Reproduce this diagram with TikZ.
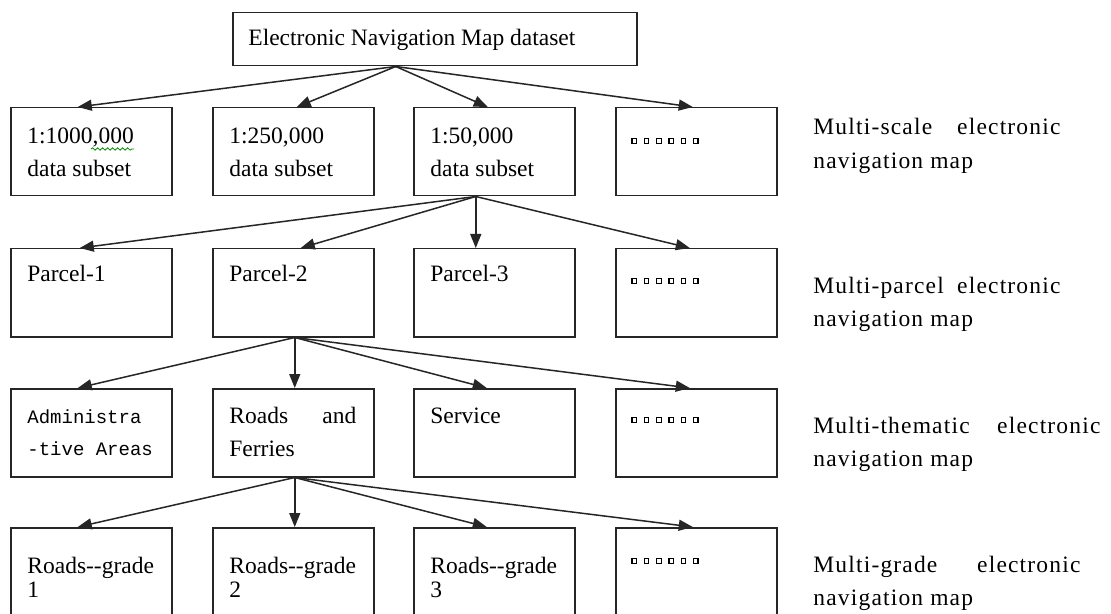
\documentclass[tikz,border=0pt]{standalone}
\usepackage{fontspec}
\setmainfont{Liberation Serif}
\newfontfamily\monof{Liberation Mono}
\newfontfamily\widef[LetterSpace=5]{Liberation Serif}
\usetikzlibrary{arrows.meta,decorations.pathmorphing}
\newcommand{\mylines}[1]{\begin{tabular}[t]{@{}l@{}}#1\end{tabular}}
\begin{document}
\begin{tikzpicture}[x=0.5pt,y=-0.5pt,
  box/.style={draw=black!85, line width=0.75pt, minimum width=80.5pt, minimum height=44pt, inner sep=0pt, anchor=north west},
  txt/.style={anchor=base west, inner sep=0pt, font=\fontsize{11.75}{16.5}\selectfont},
  txtb/.style={anchor=base west, inner sep=0pt, font=\fontsize{11.75}{12}\selectfont},
  lbl/.style={anchor=base west, inner sep=0pt, font=\fontsize{11.75}{16.75}\selectfont\widef},
  mono/.style={anchor=base west, inner sep=0pt, font=\fontsize{9.5}{16.25}\selectfont\monof},
  arr/.style={draw=black!85, line width=0.75pt, -{Triangle[length=7pt,width=5.5pt]}},
  dotsq/.style={draw=black, line width=0.6pt}]
\useasboundingbox (0,0) rectangle (1111,614);
\fill[white] (0,0) rectangle (1111,614);

% top box
\node[box, minimum width=202pt, minimum height=26.5pt] (top) at (232,12) {};
\node[txt] (ttop) at (248,46) {Electronic Navigation Map dataset};

% row 1
\node[box] (a1) at (10,107) {};
\node[box] (a2) at (212,107) {};
\node[box] (a3) at (413,107) {};
\node[box] (a4) at (615,107) {};
\node[txt] (ta1) at (27,144) {\mylines{1:1000,000\\data subset}};
\node[txt] (ta2) at (229,144) {\mylines{1:250,000\\data subset}};
\node[txt] (ta3) at (430,144) {\mylines{1:50,000\\data subset}};
\draw[green!55!black, line width=0.4pt, decorate, decoration={snake, segment length=2.5pt, amplitude=0.6pt}] (91,149) -- (134,149);

% row 2
\node[box] (b1) at (10,248) {};
\node[box] (b2) at (212,248) {};
\node[box] (b3) at (413,248) {};
\node[box] (b4) at (615,248) {};
\node[txt] (tb1) at (27,282) {Parcel-1};
\node[txt] (tb2) at (229,282) {Parcel-2};
\node[txt] (tb3) at (430,282) {Parcel-3};

% row 3
\node[box] (c1) at (10,388) {};
\node[box] (c2) at (212,388) {};
\node[box] (c3) at (413,388) {};
\node[box] (c4) at (615,388) {};
\node[mono] (tc1) at (27,423) {\mylines{Administra\\-tive Areas}};
\node[txt] (tc2) at (229,423) {\mylines{\hbox to 63.5pt{Roads\hfill and}\\Ferries}};
\node[txt] (tc3) at (430,423) {Service};

% row 4
\node[box] (d1) at (10,527) {};
\node[box] (d2) at (212,527) {};
\node[box] (d3) at (413,527) {};
\node[box] (d4) at (615,527) {};
\node[txtb] (td1) at (27,573) {\mylines{Roads-\kern0pt-grade\\1}};
\node[txtb] (td2) at (229,573) {\mylines{Roads-\kern0pt-grade\\2}};
\node[txtb] (td3) at (430,573) {\mylines{Roads-\kern0pt-grade\\3}};

% ellipsis squares
\foreach \yy in {141,281,420,561}
  \foreach \i in {0,...,5}
    \draw[dotsq] ({632+12.3*\i},{\yy-2.25}) rectangle ++(4.5,4.5);

% arrows
\draw[arr] ([xshift=-19.5pt]top.south) -- ([xshift=-6.75pt]a1.north);
\draw[arr] ([xshift=-19.5pt]top.south) -- ([xshift=1.75pt]a2.north);
\draw[arr] ([xshift=-19.5pt]top.south) -- ([xshift=-3.25pt]a3.north);
\draw[arr] ([xshift=-19.5pt]top.south) -- ([xshift=-1.75pt]a4.north);

\draw[arr] ([xshift=-9.25pt]a3.south) -- ([xshift=-5.75pt]b1.north);
\draw[arr] ([xshift=-9.25pt]a3.south) -- ([xshift=3.75pt]b2.north);
\draw[arr] ([xshift=-9.25pt]a3.south) -- ([xshift=-9.25pt]b3.north);
\draw[arr] ([xshift=-9.25pt]a3.south) -- ([xshift=-3.25pt]b4.north);

\draw[arr] ([xshift=0.75pt]b2.south) -- ([xshift=-6.75pt]c1.north);
\draw[arr] ([xshift=0.75pt]b2.south) -- ([xshift=0.75pt]c2.north);
\draw[arr] ([xshift=0.75pt]b2.south) -- ([xshift=-3.75pt]c3.north);
\draw[arr] ([xshift=0.75pt]b2.south) -- ([xshift=-3.25pt]c4.north);

\draw[arr] ([xshift=0.75pt]c2.south) -- ([xshift=-6.75pt]d1.north);
\draw[arr] ([xshift=0.75pt]c2.south) -- ([xshift=0.75pt]d2.north);
\draw[arr] ([xshift=0.75pt]c2.south) -- ([xshift=-3.75pt]d3.north);
\draw[arr] ([xshift=0.75pt]c2.south) -- ([xshift=-1.75pt]d4.north);

% right labels
\node[lbl] (l1) at (813,135) {\mylines{\hbox to 123.5pt{Multi-scale\hfill electronic}\\navigation map}};
\node[lbl] (l2) at (813,293) {\mylines{\hbox to 123.5pt{Multi-parcel\hfill electronic}\\navigation map}};
\node[lbl] (l3) at (813,433) {\mylines{\hbox to 143.5pt{Multi-thematic\hfill electronic}\\navigation map}};
\node[lbl] (l4) at (813,572) {\mylines{\hbox to 133.5pt{Multi-grade\hfill electronic}\\navigation map}};
\end{tikzpicture}
\end{document}
